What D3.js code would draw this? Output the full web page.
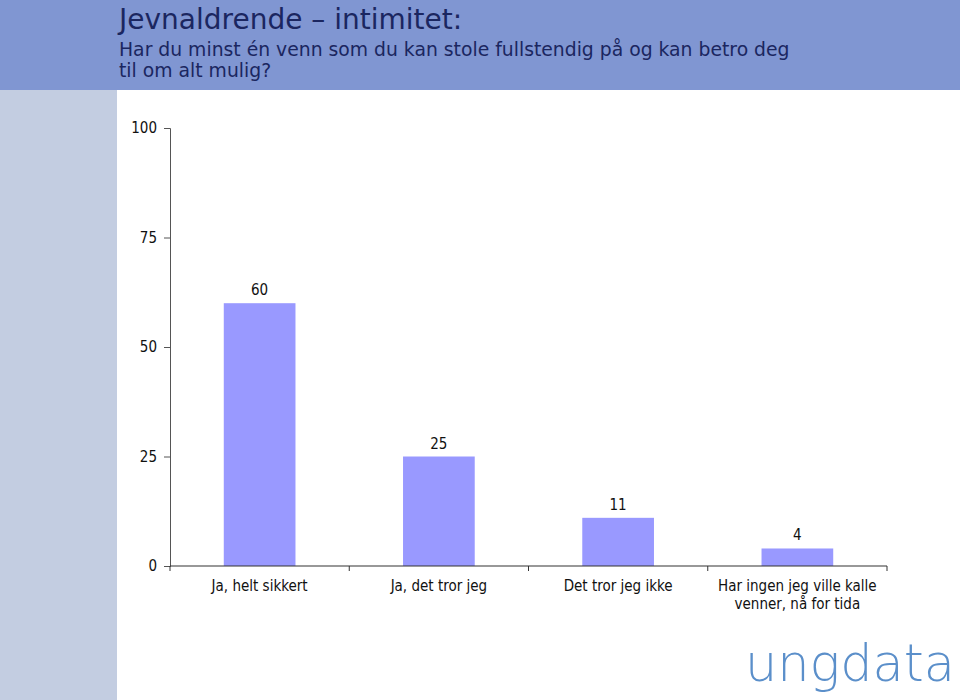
<!DOCTYPE html>
<html><head><meta charset="utf-8">
<script src="https://cdn.jsdelivr.net/npm/d3@7"></script>
<style>body{margin:0;background:#fff;} svg{display:block;}</style>
</head><body>
<script>
const categories = ["Ja, helt sikkert", "Ja, det tror jeg", "Det tror jeg ikke", "Har ingen jeg ville kalle|venner, nå for tida"];
const values = [60, 25, 11, 4];
const yTicks = [0, 25, 50, 75, 100];
const title = "Jevnaldrende – intimitet:";
const subtitleLines = ["Har du minst én venn som du kan stole fullstendig på og kan betro deg", "til om alt mulig?"];

const W = 960, H = 700;
const svg = d3.select("body").append("svg").attr("width", W).attr("height", H);
const font = "'DejaVu Sans', Verdana, sans-serif";
const fontC = "'DejaVu Sans Condensed', 'DejaVu Sans', sans-serif";

svg.append("rect").attr("x", 0).attr("y", 90).attr("width", 117).attr("height", H - 90).attr("fill", "#c3cde1");
svg.append("rect").attr("x", 0).attr("y", 0).attr("width", W).attr("height", 90).attr("fill", "#8096d2");

svg.append("text").attr("x", 119).attr("y", 29).attr("font-family", font).attr("font-size", 28)
  .attr("fill", "#1b2660").text(title);
subtitleLines.forEach((t, i) => {
  svg.append("text").attr("x", 119).attr("y", 56 + i * 21).attr("font-family", font).attr("font-size", 18.8)
    .attr("fill", "#1b2660").text(t);
});

const x = d3.scaleBand().domain(categories).range([170, 887]).paddingInner(0.6).paddingOuter(0.3);
const y = d3.scaleLinear().domain([0, 100]).range([566, 128]);

const yAxis = svg.append("g").attr("transform", "translate(170,0)")
  .call(d3.axisLeft(y).tickValues(yTicks).tickSize(6).tickPadding(7));
yAxis.select(".domain").attr("stroke", "#555");
yAxis.selectAll(".tick line").attr("stroke", "#555");
yAxis.selectAll("text").attr("font-family", fontC).attr("font-size", 15).attr("fill", "#111");

svg.append("g").selectAll("rect").data(values).join("rect")
  .attr("x", (d, i) => x(categories[i]))
  .attr("y", d => y(d))
  .attr("width", x.bandwidth())
  .attr("height", d => y(0) - y(d))
  .attr("fill", "#9999ff");

svg.append("g").selectAll("text").data(values).join("text")
  .attr("x", (d, i) => x(categories[i]) + x.bandwidth() / 2)
  .attr("y", d => y(d) - 8)
  .attr("text-anchor", "middle").attr("font-family", fontC).attr("font-size", 15).attr("fill", "#111")
  .text(d => d);

// x axis baseline with ticks at category boundaries
const xa = svg.append("g");
xa.append("line").attr("x1", 170).attr("x2", 887).attr("y1", y(0)).attr("y2", y(0)).attr("stroke", "#333").attr("stroke-width", 1.2);
const bounds = d3.range(categories.length + 1).map(i => 170 + i * (887 - 170) / categories.length);
xa.selectAll("line.t").data(bounds).join("line").attr("class", "t")
  .attr("x1", d => d).attr("x2", d => d).attr("y1", y(0)).attr("y2", y(0) + 5).attr("stroke", "#333");
categories.forEach((c, i) => {
  const cx = (bounds[i] + bounds[i + 1]) / 2;
  c.split("|").forEach((line, j) => {
    xa.append("text").attr("x", cx).attr("y", 591 + j * 18).attr("text-anchor", "middle")
      .attr("font-family", fontC).attr("font-size", 15).attr("fill", "#111").text(line);
  });
});

// logo
svg.append("text").attr("x", 745).attr("y", 681).attr("font-family", font).attr("font-weight", 200)
  .attr("font-size", 52).attr("fill", "#5b8fca")
  .attr("textLength", 210).attr("lengthAdjust", "spacingAndGlyphs").text("ungdata");
</script>
</body></html>
